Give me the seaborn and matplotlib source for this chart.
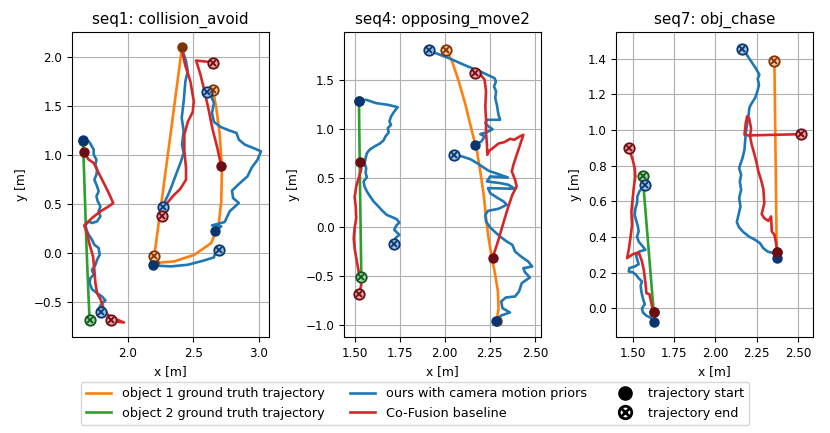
import numpy as np
import pandas as pd
import matplotlib
matplotlib.use('Agg')
import matplotlib.pyplot as plt
import seaborn as sns
from matplotlib.lines import Line2D
from matplotlib.legend_handler import HandlerTuple
from matplotlib.colors import to_rgb

# ---- seq1: collision_avoid  (x [m], y [m]) ----
s1_gt1_a = [(2.415, 2.095), (2.31, 1.03), (2.203, -0.037)]
s1_gt1_b = [(2.203, -0.105), (2.356, -0.088), (2.51, -0.02), (2.638, 0.099), (2.695, 0.286),
            (2.715, 0.524), (2.72, 0.864), (2.703, 1.204), (2.677, 1.476), (2.651, 1.663)]
s1_gt2 = [(1.659, 1.14), (1.668, 0.8), (1.685, 0.1), (1.700, -0.4), (1.710, -0.690)]

s1_ours_a = [(1.659, 1.146), (1.703, 1.136), (1.720, 1.102), (1.741, 1.051), (1.741, 1.000),
             (1.762, 0.949), (1.754, 0.898), (1.767, 0.847), (1.762, 0.796), (1.746, 0.745),
             (1.767, 0.677), (1.779, 0.626), (1.762, 0.575), (1.772, 0.524), (1.792, 0.473),
             (1.779, 0.422), (1.792, 0.371), (1.767, 0.320), (1.728, 0.303), (1.703, 0.320),
             (1.677, 0.286), (1.685, 0.235), (1.703, 0.184), (1.728, 0.133), (1.746, 0.082),
             (1.779, 0.048), (1.787, -0.020), (1.767, -0.071), (1.754, -0.123), (1.728, -0.174),
             (1.741, -0.224), (1.715, -0.259), (1.710, -0.310), (1.728, -0.371), (1.767, -0.412),
             (1.805, -0.446), (1.831, -0.486), (1.805, -0.514), (1.787, -0.548), (1.797, -0.599)]
s1_ours_b = [(2.428, 2.027), (2.446, 1.952), (2.459, 1.850), (2.441, 1.748), (2.428, 1.544),
             (2.413, 1.374), (2.428, 1.238), (2.415, 1.102), (2.428, 1.017), (2.403, 0.915),
             (2.369, 0.796), (2.336, 0.677), (2.310, 0.592), (2.285, 0.524), (2.267, 0.463)]
s1_ours_c = [(2.190, -0.129), (2.331, -0.139), (2.459, -0.122), (2.574, -0.082), (2.659, -0.047),
             (2.669, -0.003), (2.695, 0.031)]
s1_ours_d = [(2.669, 0.224), (2.715, 0.269), (2.644, 0.279), (2.741, 0.313), (2.779, 0.422),
             (2.849, 0.507), (2.805, 0.558), (2.797, 0.633), (2.844, 0.694), (2.915, 0.779),
             (2.946, 0.864), (2.992, 0.949), (3.018, 1.034), (2.972, 1.061), (2.895, 1.102),
             (2.849, 1.153), (2.831, 1.221), (2.779, 1.245), (2.715, 1.279), (2.659, 1.333),
             (2.644, 1.425), (2.659, 1.527), (2.638, 1.595), (2.605, 1.643)]

s1_cof_a = [(1.664, 1.024), (1.703, 0.949), (1.741, 0.915), (1.779, 0.813), (1.818, 0.711),
            (1.856, 0.609), (1.890, 0.507), (1.856, 0.473), (1.792, 0.422), (1.728, 0.354),
            (1.690, 0.303), (1.669, 0.279), (1.690, 0.201), (1.710, 0.082), (1.736, -0.037),
            (1.746, -0.174), (1.754, -0.310), (1.767, -0.412), (1.797, -0.486), (1.813, -0.554),
            (1.849, -0.633), (1.895, -0.667), (1.972, -0.711), (1.874, -0.690)]
s1_cof_b = [(2.421, 2.027), (2.438, 1.918), (2.479, 1.748), (2.505, 1.544), (2.497, 1.435),
            (2.459, 1.333), (2.433, 1.204), (2.433, 1.034), (2.446, 0.864), (2.446, 0.745),
            (2.403, 0.653), (2.344, 0.575), (2.292, 0.490), (2.259, 0.371)]
s1_cof_c = [(2.715, 0.881), (2.685, 1.068), (2.646, 1.272), (2.621, 1.442), (2.587, 1.646),
            (2.556, 1.816), (2.523, 1.959), (2.613, 1.946), (2.655, 1.930)]

# ---- seq4: opposing_move2 ----
s2_gt1 = [(2.289, -0.956), (2.298, -0.827), (2.295, -0.657), (2.280, -0.487), (2.262, -0.317),
          (2.243, -0.113), (2.229, 0.092), (2.216, 0.330), (2.197, 0.568), (2.179, 0.772),
          (2.151, 0.976), (2.115, 1.248), (2.078, 1.486), (2.041, 1.690), (2.008, 1.809)]
s2_gt2 = [(1.524, 1.289), (1.530, 0.4), (1.537, -0.504)]

s2_ours_a = [(1.524, 1.289), (1.564, 1.299), (1.619, 1.265), (1.684, 1.248), (1.739, 1.224),
             (1.720, 1.180), (1.702, 1.129), (1.693, 1.078), (1.702, 1.044), (1.684, 1.010),
             (1.689, 0.966), (1.671, 0.925), (1.660, 0.884), (1.638, 0.850), (1.610, 0.823),
             (1.583, 0.789), (1.568, 0.755), (1.561, 0.704), (1.555, 0.653), (1.564, 0.602),
             (1.561, 0.551), (1.568, 0.510), (1.550, 0.466), (1.555, 0.415), (1.568, 0.364),
             (1.586, 0.313), (1.605, 0.262), (1.629, 0.217), (1.652, 0.170), (1.678, 0.125),
             (1.708, 0.102), (1.733, 0.081), (1.748, 0.047), (1.730, 0.013), (1.720, -0.028),
             (1.748, -0.079), (1.726, -0.113), (1.720, -0.174)]
s2_ours_b = [(2.170, 0.840), (2.203, 0.874), (2.221, 0.925), (2.197, 0.949), (2.234, 0.969),
             (2.265, 0.999), (2.243, 1.027), (2.225, 1.061), (2.234, 1.095), (2.307, 1.095),
             (2.298, 1.146), (2.289, 1.248), (2.280, 1.316), (2.285, 1.384), (2.273, 1.435),
             (2.284, 1.486), (2.276, 1.520), (2.197, 1.588), (2.115, 1.649), (2.023, 1.724),
             (1.950, 1.775), (1.913, 1.809)]
s2_ours_c = [(2.285, -0.956), (2.313, -0.902), (2.362, -0.871), (2.320, -0.827), (2.313, -0.759),
             (2.339, -0.718), (2.390, -0.708), (2.412, -0.657), (2.427, -0.572), (2.472, -0.514),
             (2.445, -0.460), (2.436, -0.419), (2.485, -0.402), (2.463, -0.351), (2.423, -0.300),
             (2.390, -0.249), (2.375, -0.181), (2.344, -0.147), (2.307, -0.096), (2.280, -0.052),
             (2.252, -0.004), (2.229, 0.058), (2.225, 0.125), (2.240, 0.166), (2.298, 0.187),
             (2.344, 0.228), (2.326, 0.262), (2.289, 0.302), (2.252, 0.347), (2.240, 0.398),
             (2.390, 0.391), (2.353, 0.432), (2.307, 0.449), (2.234, 0.466), (2.252, 0.517),
             (2.350, 0.506), (2.298, 0.540), (2.243, 0.575), (2.207, 0.619), (2.179, 0.653),
             (2.142, 0.693), (2.096, 0.721), (2.052, 0.738)]

s2_cof_a = [(1.528, 0.660), (1.537, 0.591), (1.524, 0.510), (1.509, 0.415), (1.500, 0.306),
            (1.506, 0.211), (1.509, 0.092), (1.500, -0.010), (1.495, -0.113), (1.500, -0.215),
            (1.509, -0.317), (1.519, -0.419), (1.528, -0.504), (1.537, -0.589), (1.528, -0.657),
            (1.524, -0.681)]
s2_cof_b = [(2.265, -0.317), (2.295, -0.147), (2.322, 0.023), (2.350, 0.194), (2.375, 0.330),
            (2.399, 0.415), (2.390, 0.483), (2.372, 0.568), (2.381, 0.636), (2.399, 0.738),
            (2.418, 0.840), (2.436, 0.942), (2.412, 0.921), (2.386, 0.891), (2.362, 0.901),
            (2.331, 0.867), (2.298, 0.853), (2.276, 0.819), (2.247, 0.779), (2.236, 0.738),
            (2.234, 0.840), (2.229, 0.959), (2.229, 1.095), (2.225, 1.231), (2.229, 1.384),
            (2.221, 1.503), (2.203, 1.547), (2.170, 1.571)]

# ---- seq7: obj_chase ----
s3_gt1 = [(2.370, 0.314), (2.356, 1.389)]
s3_gt2 = [(1.627, -0.023), (1.560, 0.740)]

s3_ours_a = [(1.631, -0.075), (1.607, -0.053), (1.581, -0.041), (1.561, -0.023), (1.556, 0.000),
             (1.573, 0.022), (1.561, 0.056), (1.552, 0.094), (1.548, 0.127), (1.556, 0.150),
             (1.536, 0.168), (1.520, 0.187), (1.500, 0.202), (1.476, 0.206), (1.480, 0.225),
             (1.512, 0.234), (1.536, 0.247), (1.526, 0.277), (1.520, 0.296), (1.540, 0.318),
             (1.577, 0.328), (1.556, 0.352), (1.536, 0.374), (1.526, 0.402), (1.536, 0.431),
             (1.530, 0.464), (1.520, 0.496), (1.512, 0.524), (1.516, 0.558), (1.526, 0.590),
             (1.528, 0.627), (1.540, 0.655), (1.556, 0.674), (1.577, 0.689)]
s3_ours_b = [(2.374, 0.281), (2.350, 0.309), (2.315, 0.318), (2.289, 0.337), (2.269, 0.365),
             (2.239, 0.384), (2.203, 0.402), (2.169, 0.427), (2.143, 0.453), (2.129, 0.483),
             (2.139, 0.524), (2.151, 0.571), (2.143, 0.618), (2.155, 0.665), (2.147, 0.711),
             (2.155, 0.749), (2.143, 0.786), (2.149, 0.805), (2.163, 0.842), (2.175, 0.889),
             (2.179, 0.936), (2.183, 0.983), (2.191, 1.033), (2.199, 1.077), (2.205, 1.127),
             (2.219, 1.151), (2.239, 1.180), (2.253, 1.217), (2.263, 1.254), (2.255, 1.288),
             (2.265, 1.311), (2.243, 1.348), (2.215, 1.386), (2.189, 1.423), (2.163, 1.457)]

s3_cof_a = [(1.627, -0.023), (1.617, 0.009), (1.601, 0.079), (1.583, 0.084), (1.577, 0.140),
            (1.567, 0.215), (1.556, 0.262), (1.536, 0.314), (1.500, 0.303), (1.466, 0.281),
            (1.476, 0.328), (1.486, 0.393), (1.496, 0.468), (1.492, 0.543), (1.500, 0.618),
            (1.506, 0.674), (1.516, 0.740), (1.512, 0.786), (1.500, 0.833), (1.476, 0.899)]
s3_cof_b = [(2.374, 0.314), (2.366, 0.365), (2.356, 0.412), (2.340, 0.431), (2.336, 0.515),
            (2.320, 0.490), (2.295, 0.505), (2.279, 0.528), (2.295, 0.590), (2.289, 0.670),
            (2.275, 0.721), (2.259, 0.768), (2.249, 0.814), (2.235, 0.865), (2.219, 0.917),
            (2.209, 0.964), (2.215, 1.011), (2.203, 1.067), (2.191, 1.077), (2.183, 1.039),
            (2.175, 0.974), (2.199, 0.970), (2.516, 0.977)]

# start / end markers per panel, drawn in order gt1, gt2, ours, cofusion
s1_starts = {'gt1': [(2.415, 2.095), (2.203, -0.105)], 'gt2': [(1.659, 1.14)],
             'ours': [(1.659, 1.146), (2.190, -0.129), (2.669, 0.224)],
             'cof': [(1.664, 1.024), (2.715, 0.881)]}
s1_ends = {'gt1': [(2.203, -0.037), (2.651, 1.663)], 'gt2': [(1.710, -0.690)],
           'ours': [(1.797, -0.599), (2.267, 0.463), (2.695, 0.031), (2.605, 1.643)],
           'cof': [(1.874, -0.690), (2.259, 0.371), (2.655, 1.930)]}
s2_starts = {'gt1': [(2.289, -0.956)], 'gt2': [(1.524, 1.289)],
             'ours': [(1.524, 1.289), (2.170, 0.840), (2.285, -0.956)],
             'cof': [(1.528, 0.660), (2.265, -0.317)]}
s2_ends = {'gt1': [(2.008, 1.809)], 'gt2': [(1.537, -0.504)],
           'ours': [(1.720, -0.174), (1.913, 1.809), (2.052, 0.738)],
           'cof': [(1.524, -0.681), (2.170, 1.571)]}
s3_starts = {'gt1': [(2.370, 0.314)], 'gt2': [(1.627, -0.023)],
             'ours': [(1.631, -0.075), (2.374, 0.281)],
             'cof': [(1.627, -0.023), (2.374, 0.314)]}
s3_ends = {'gt1': [(2.356, 1.389)], 'gt2': [(1.560, 0.740)],
           'ours': [(1.577, 0.689), (2.163, 1.457)],
           'cof': [(1.476, 0.899), (2.516, 0.977)]}

titles = ['seq1: collision_avoid', 'seq4: opposing_move2', 'seq7: obj_chase']
xlims = [(1.577, 3.077), (1.443, 2.533), (1.402, 2.589)]
ylims = [(-0.857, 2.245), (-1.12, 1.986), (-0.161, 1.548)]

colors = {'gt1': '#ff7f0e', 'gt2': '#2ca02c', 'ours': '#1f77b4', 'cof': '#d62728'}
dark = {'gt1': '#7f3305', 'gt2': '#11561a', 'ours': '#0a3570', 'cof': '#6b0d12'}


def light(c, f=0.55):
    r = np.array(to_rgb(c))
    return tuple(r + (1 - r) * f)


panels = [
    ({'gt1': [s1_gt1_a, s1_gt1_b], 'gt2': [s1_gt2], 'ours': [s1_ours_a, s1_ours_b, s1_ours_c, s1_ours_d],
      'cof': [s1_cof_a, s1_cof_b, s1_cof_c]}, s1_starts, s1_ends),
    ({'gt1': [s2_gt1], 'gt2': [s2_gt2], 'ours': [s2_ours_a, s2_ours_b, s2_ours_c],
      'cof': [s2_cof_a, s2_cof_b]}, s2_starts, s2_ends),
    ({'gt1': [s3_gt1], 'gt2': [s3_gt2], 'ours': [s3_ours_a, s3_ours_b],
      'cof': [s3_cof_a, s3_cof_b]}, s3_starts, s3_ends),
]

fig, axes = plt.subplots(1, 3, figsize=(8.3, 4.33), dpi=100)
fig.subplots_adjust(left=0.087, right=0.9795, bottom=0.222, top=0.925, wspace=0.385)

for ax, (segs, starts, ends), title, xl, yl in zip(axes, panels, titles, xlims, ylims):
    ax.set_axisbelow(True)
    ax.grid(True, color='#b0b0b0', lw=0.8)
    for key in ['gt1', 'gt2', 'ours', 'cof']:
        for seg in segs[key]:
            df = pd.DataFrame(seg, columns=['x', 'y'])
            sns.lineplot(data=df, x='x', y='y', sort=False, estimator=None,
                         color=colors[key], lw=1.9, ax=ax)
    for key in ['gt1', 'gt2', 'ours', 'cof']:
        sx, sy = zip(*starts[key])
        ax.plot(sx, sy, 'o', ms=6.5, color=dark[key], zorder=5)
        ex, ey = zip(*ends[key])
        ax.plot(ex, ey, 'o', ms=7.5, mfc=light(colors[key]), mec=dark[key], mew=1.3, zorder=5)
        ax.plot(ex, ey, 'x', ms=4.5, color=dark[key], mew=1.3, zorder=6)
    ax.set_xlim(xl)
    ax.set_ylim(yl)
    ax.set_title(title, fontsize=10.9)
    ax.set_xlabel('x [m]', fontsize=8.8)
    ax.set_ylabel('y [m]', fontsize=8.8)
    ax.tick_params(labelsize=8.6)

handles = [Line2D([], [], color=colors['gt1'], lw=1.9),
           Line2D([], [], color=colors['gt2'], lw=1.9),
           Line2D([], [], color=colors['ours'], lw=1.9),
           Line2D([], [], color=colors['cof'], lw=1.9),
           Line2D([], [], ls='', marker='o', ms=9.5, color='black'),
           (Line2D([], [], ls='', marker='o', ms=9, mfc='white', mec='black', mew=2),
            Line2D([], [], ls='', marker='x', ms=5.5, color='black', mew=2))]
labels = ['object 1 ground truth trajectory', 'object 2 ground truth trajectory',
          'ours with camera motion priors', 'Co-Fusion baseline',
          'trajectory start', 'trajectory end']
fig.legend(handles, labels, loc='lower center', bbox_to_anchor=(0.5, 0.004), ncol=3,
           fontsize=9.2, handler_map={tuple: HandlerTuple(ndivide=1)})

fig.savefig('out.png', dpi=100)
